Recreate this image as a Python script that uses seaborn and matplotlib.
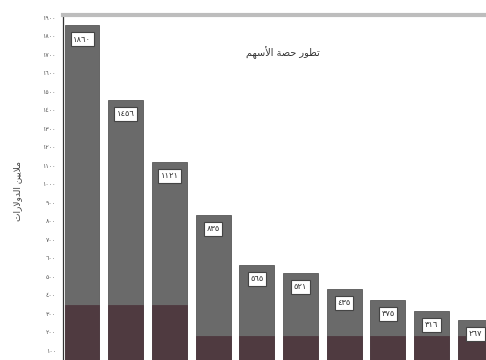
import matplotlib
matplotlib.use("Agg")
import matplotlib.pyplot as plt
import seaborn as sns
import pandas as pd

sns.set_style("white")
plt.rcParams['font.family'] = ['DejaVu Sans']

# Data (units of 100)
categories = ["1", "2", "3", "4", "5", "6", "7", "8", "9", "10"]
totals = [1860, 1456, 1121, 835, 565, 521, 435, 375, 316, 267]
bottoms = [348, 348, 348, 181, 181, 181, 181, 181, 181, 181]
tick_values = list(range(100, 2000, 100))

AR_DIGITS = str.maketrans("0123456789", "٠١٢٣٤٥٦٧٨٩")
def ar(n):
    return str(n).translate(AR_DIGITS)

# Pre-shaped Arabic (presentation forms, visual order)
title_txt = "\uFEE2\uFEEC\uFEB3\uFEF7\uFE8D \uFE94\uFEBC\uFEA3 \uFEAD\uFEEE\uFEC4\uFE97"  # تطور حصة الأسهم
ylabel_txt = "\uFE95\uFE8D\uFEAD\uFEFB\uFEED\uFEAA\uFEDF\uFE8D \uFEE6\uFEF4\uFEF3\uFEFC\uFEE3"  # ملايين الدولارات

df = pd.DataFrame({"cat": categories, "total": totals, "bottom": bottoms})

fig = plt.figure(figsize=(4.86, 3.60), dpi=100)
ax = fig.add_axes([63/486, 0.0, 1 - 63/486, 345/360])

sns.barplot(data=df, x="cat", y="total", color="#6a6a6a", width=0.8,
            saturation=1, ax=ax, edgecolor="#585858", linewidth=0.6)
sns.barplot(data=df, x="cat", y="bottom", color="#4f3a40", width=0.8,
            saturation=1, ax=ax, edgecolor="#4f3a40", linewidth=0.6)

for i, t in enumerate(totals):
    ax.text(i, t - 75, ar(t), ha="center", va="center", fontsize=6,
            color="#333333",
            bbox=dict(boxstyle="square,pad=0.3", fc="white", ec="#444444", lw=0.8))

ax.set_xlim(-0.435, 9.245)
ax.set_ylim(51, 1916)
ax.set_yticks(tick_values)
ax.set_yticklabels([ar(v) for v in tick_values], fontsize=4.5, color="#555555")
ax.tick_params(axis="y", length=3, width=0.6, color="#444444", pad=2)
ax.set_xticks([])
ax.set_xlabel("")
ax.set_ylabel("")

for s in ["right", "bottom"]:
    ax.spines[s].set_visible(False)
ax.spines["left"].set_color("#333333")
ax.spines["left"].set_linewidth(0.9)
ax.spines["top"].set_color("#bdbdbd")
ax.spines["top"].set_linewidth(3)

fig.text(283/486, 1 - 53/360, title_txt, ha="center", va="center",
         fontsize=7, color="#333333")
fig.text(18/486, 1 - 191/360, ylabel_txt, ha="center", va="center",
         fontsize=6.5, color="#444444", rotation=90)

fig.savefig("out.png", dpi=100)
